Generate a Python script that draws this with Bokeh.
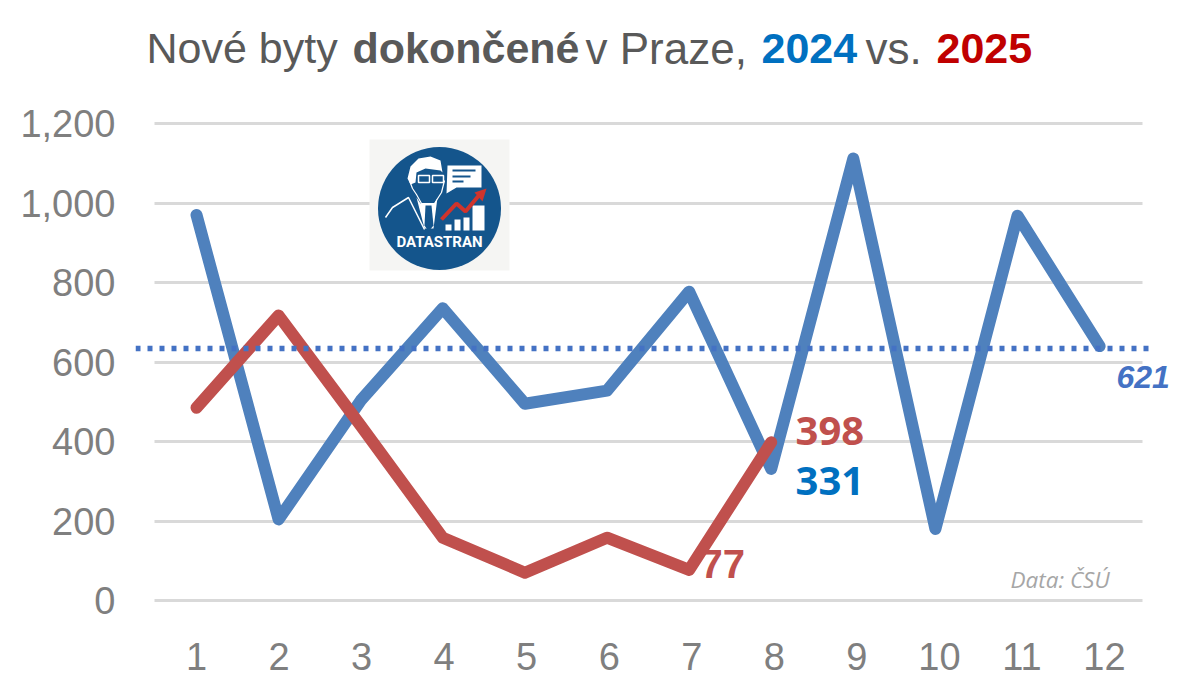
from bokeh.plotting import figure
from bokeh.embed import file_html
from bokeh.resources import INLINE
from bokeh.models import Range1d, FixedTicker, Label, NumeralTickFormatter, LinearAxis
from bokeh.core.properties import value

months = list(range(1, 13))
y2024 = [970, 204, 503, 735, 495, 528, 777, 331, 1112, 180, 968, 640]
months25 = list(range(1, 9))
y2025 = [485, 717, 440, 158, 70, 158, 77, 398]
avg_level = 634
yticks = [0, 200, 400, 600, 800, 1000, 1200]

W, H = 1178, 679
FL, FR, FT, FB = 135, 1178, 0, 622   # frame edges in page px
SX, SY = 82.1, 0.3975
def xd(px): return 1 + (px - 196) / SX
def yd(py): return (600 - py) / SY

p = figure(width=W, height=H, output_backend="svg", toolbar_location=None,
           x_range=Range1d(xd(FL), xd(FR)), y_range=Range1d(yd(FB), yd(FT)),
           x_axis_location=None,
           min_border_left=FL, min_border_right=W - FR,
           min_border_top=FT, min_border_bottom=H - FB)
p.outline_line_color = None
p.background_fill_color = "white"
p.border_fill_color = "white"
p.xgrid.grid_line_color = None
p.ygrid.ticker = FixedTicker(ticks=yticks)
p.ygrid.grid_line_color = "#d9d9d9"
p.ygrid.grid_line_width = 3
p.ygrid.cross_bounds = (xd(154), xd(1142))

# the month labels sit on a slightly wider spacing than the lines in the reference
SX_LABELS = 82.545
p.extra_x_ranges["months"] = Range1d(1 + (FL - 196) / SX_LABELS, 1 + (FR - 196) / SX_LABELS)
xaxis = LinearAxis(x_range_name="months", ticker=FixedTicker(ticks=months))
p.add_layout(xaxis, "below")

for ax in (xaxis, p.yaxis[0]):
    ax.axis_line_color = None
    ax.major_tick_line_color = None
    ax.minor_tick_line_color = None
    ax.major_label_text_color = "#7f7f7f"
    ax.major_label_text_font = "Liberation Sans"
    ax.major_label_text_font_size = "38px"
p.yaxis[0].ticker = FixedTicker(ticks=yticks)
p.yaxis[0].formatter = NumeralTickFormatter(format="0,0")
p.yaxis[0].major_label_standoff = 14
xaxis.major_label_standoff = 14

# logo, drawn from primitives
NAVY = "#14558c"
def patch(xs, ys, **kw):
    p.patch([xd(v) for v in xs], [yd(v) for v in ys], **kw)
p.quad(left=xd(369), right=xd(509), top=yd(139), bottom=yd(270), color="#f5f5f3", line_color=None)
p.ellipse(x=xd(439), y=yd(208), width=123 / SX, height=123 / SY, color=NAVY, line_color=None)
# hair
patch((407, 410, 418, 430, 440, 442, 440, 425, 416, 415, 410),
      (178, 166, 158, 156, 160, 172, 170, 168, 172, 182, 184), fill_color="white", line_color=None)
# face outline
p.line([xd(v) for v in (409, 412, 416, 421, 434, 441, 444)], [yd(v) for v in (180, 188, 194, 203, 203, 192, 180)],
       line_color="white", line_width=1.2)
# jacket outline
p.line([xd(v) for v in (385, 392, 408, 414, 424)], [yd(v) for v in (217, 207, 197, 209, 229)],
       line_color="white", line_width=1.5)
# shirt and tie
patch((416, 420, 434, 437, 433, 424), (197, 203, 203, 197, 228, 228), fill_color="white", line_color=None)
patch((425, 431, 433, 428, 424), (205, 205, 225, 231, 225), fill_color=NAVY, line_color=None)
# glasses
for gx in (418, 432):
    p.quad(left=xd(gx), right=xd(gx + 11), top=yd(175), bottom=yd(182),
           fill_color=NAVY, line_color="white", line_width=1.5)
# speech bubble
patch((447, 481, 481, 456, 446), (165, 165, 187, 187, 193), fill_color="white", line_color=None)
for py, x1 in ((170, 475), (176, 470), (181, 463)):
    p.line([xd(452), xd(x1)], [yd(py), yd(py)], line_color=NAVY, line_width=2)
# mini bars and arrow
p.quad(left=[xd(v) for v in (445, 454, 463, 472)], right=[xd(v) for v in (451, 460, 469, 484)],
       top=[yd(v) for v in (224, 219, 217, 205)], bottom=yd(230), color="white", line_color=None)
p.line([xd(v) for v in (441, 456, 465, 480)], [yd(v) for v in (219, 203, 211, 193)],
       line_color="#d0342c", line_width=4)
patch((486, 474, 482), (188, 192, 201), fill_color="#d0342c", line_color=None)
p.text([xd(439)], [yd(241)], text=["DATASTRAN"], text_color="white", text_align="center",
       text_baseline="middle", text_font=value("Roboto"), text_font_style="bold", text_font_size="15px")

# series
p.line(months, y2024, line_color="#4f81bd", line_width=12, line_cap="round", line_join="round")
p.line(months25, y2025, line_color="#c0504d", line_width=12, line_cap="round", line_join="round")
p.line([xd(135), xd(1148)], [avg_level, avg_level], line_color="#4472c4", line_width=5.5, line_dash="5 7")

def lab(px, py, text, color, size, font="Liberation Sans", style="normal", align="left"):
    p.add_layout(Label(x=px - FL, y=FB - py + 0.42 * size, x_units="screen", y_units="screen", text=text,
                       text_color=color, text_font=font, text_font_size=f"{size}px",
                       text_font_style=style, text_align=align, text_baseline="alphabetic"))

lab(146, 66, "Nové byty", "#595959", 43)
lab(352, 66, "dokončené", "#595959", 43, style="bold")
lab(585, 66, "v Praze,", "#595959", 44)
lab(761, 66, "2024", "#0070c0", 43, style="bold")
lab(865, 66, "vs.", "#595959", 44)
lab(936, 66, "2025", "#c00000", 43, style="bold")

lab(1116, 390, "621", "#4472c4", 32, style="bold italic")
lab(795, 447, "398", "#c0504d", 40, font="Noto Sans", style="bold")
lab(795, 497, "331", "#0070c0", 40, font="Noto Sans", style="bold")
lab(700, 580, "77", "#c0504d", 40, style="bold")
lab(1010, 588, "Data: ČSÚ", "#a6a6a6", 22.5, font="Open Sans", style="italic")

open("out.html", "w").write(file_html(p, INLINE))
